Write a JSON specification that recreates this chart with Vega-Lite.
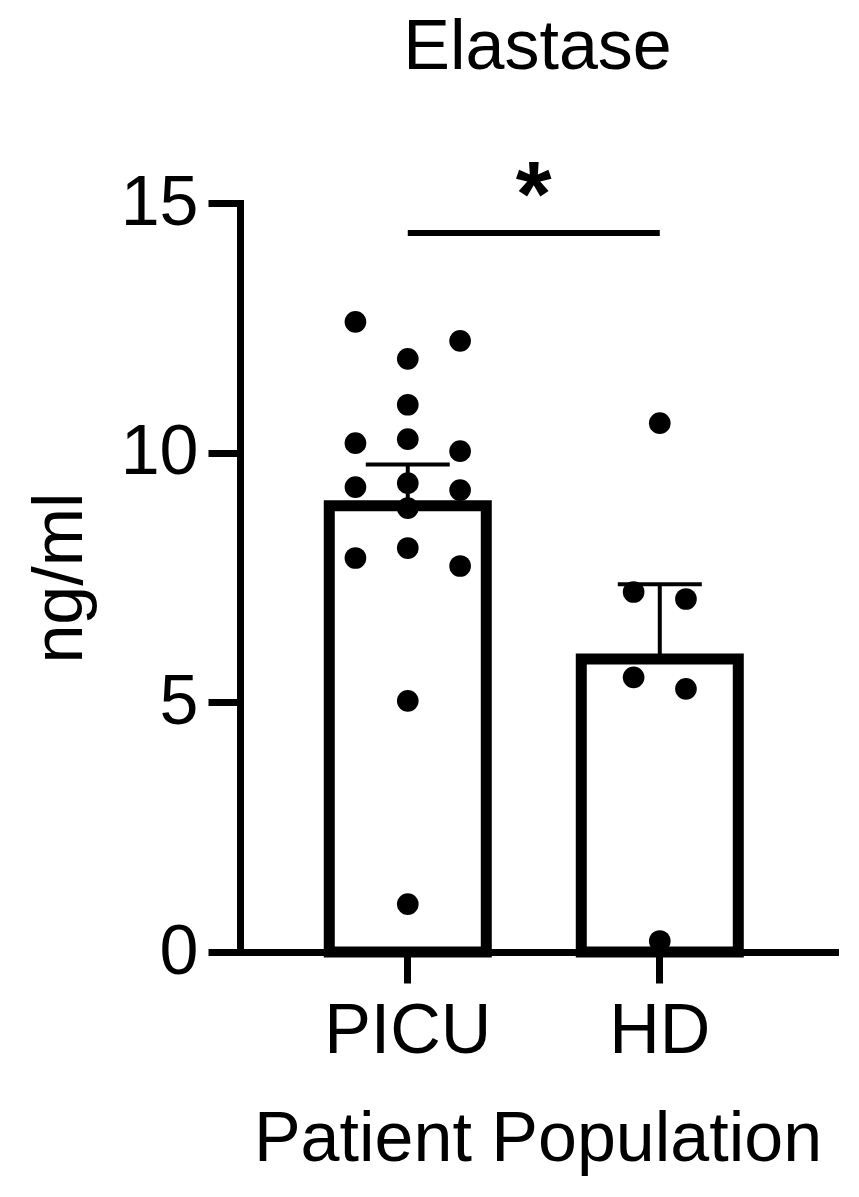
{
  "$schema": "https://vega.github.io/schema/vega-lite/v6.json",
  "width": 595,
  "height": 749,
  "autosize": {"type": "none"},
  "padding": {"left": 240, "top": 203, "right": 24, "bottom": 245},
  "background": "white",
  "config": {
    "font": "Liberation Sans",
    "view": {"stroke": null},
    "axis": {
      "domainColor": "black", "tickColor": "black", "labelColor": "black", "titleColor": "black",
      "domainWidth": 7, "tickWidth": 7, "grid": false,
      "labelFont": "Liberation Sans", "titleFont": "Liberation Sans",
      "labelFontSize": 70, "titleFontSize": 70, "titleFontWeight": "normal",
      "domainCap": "square"
    }
  },
  "title": {"text": "Elastase", "fontSize": 70, "fontWeight": "normal", "color": "black", "anchor": "middle", "offset": 68, "font": "Liberation Sans"},
  "datasets": {
    "pts": [
      {"group": "PICU", "slot": -2, "value": 12.62},
      {"group": "PICU", "slot": -2, "value": 10.19},
      {"group": "PICU", "slot": -2, "value": 9.31},
      {"group": "PICU", "slot": -2, "value": 7.89},
      {"group": "PICU", "slot": 0, "value": 11.88},
      {"group": "PICU", "slot": 0, "value": 10.96},
      {"group": "PICU", "slot": 0, "value": 10.27},
      {"group": "PICU", "slot": 0, "value": 9.39},
      {"group": "PICU", "slot": 0, "value": 8.89},
      {"group": "PICU", "slot": 0, "value": 8.09},
      {"group": "PICU", "slot": 0, "value": 5.03},
      {"group": "PICU", "slot": 0, "value": 0.96},
      {"group": "PICU", "slot": 2, "value": 12.24},
      {"group": "PICU", "slot": 2, "value": 10.03},
      {"group": "PICU", "slot": 2, "value": 9.25},
      {"group": "PICU", "slot": 2, "value": 7.73},
      {"group": "HD", "slot": 0, "value": 10.59},
      {"group": "HD", "slot": -1, "value": 7.21},
      {"group": "HD", "slot": 1, "value": 7.07},
      {"group": "HD", "slot": -1, "value": 5.5},
      {"group": "HD", "slot": 1, "value": 5.27},
      {"group": "HD", "slot": 0, "value": 0.22}
    ],
    "sig": [
      {"from": "PICU", "to": "HD", "y": 14.4, "label": "*"}
    ]
  },
  "data": {"name": "pts"},
  "encoding": {
    "x": {
      "field": "group", "type": "nominal", "sort": ["PICU", "HD"],
      "scale": {"domain": ["PICU", "HD"], "paddingInner": 0.377, "paddingOuter": 0.369, "align": 0.48},
      "axis": {"labelAngle": 0, "tickSize": 31, "labelPadding": 14, "title": "Patient Population", "titlePadding": 39}
    },
    "y": {
      "type": "quantitative",
      "scale": {"domain": [0, 15], "nice": false, "zero": true},
      "axis": {"values": [0, 5, 10, 15], "tickSize": 32, "labelPadding": 10, "title": "ng/ml", "titlePadding": 24}
    }
  },
  "resolve": {"scale": {"xOffset": "independent"}},
  "layer": [
    {
      "mark": {"type": "errorbar", "extent": "stderr", "color": "black", "ticks": {"size": 84, "thickness": 4, "color": "black", "opacity": 1}, "rule": {"strokeWidth": 4, "color": "black", "opacity": 1}},
      "encoding": {"y": {"field": "value", "type": "quantitative"}}
    },
    {
      "mark": {"type": "bar", "fill": "white", "stroke": "black", "strokeWidth": 11, "yOffset": 5.5, "width": {"band": 1}},
      "encoding": {"y": {"field": "value", "type": "quantitative", "aggregate": "mean"}}
    },
    {
      "mark": {"type": "circle", "color": "black", "opacity": 1, "size": 470},
      "encoding": {
        "y": {"field": "value", "type": "quantitative"},
        "xOffset": {"field": "slot", "type": "ordinal", "scale": {"type": "point", "domain": [-2, -1, 0, 1, 2], "padding": 1.489}}
      }
    },
    {
      "data": {"name": "sig"},
      "mark": {"type": "rule", "strokeWidth": 6, "color": "black"},
      "encoding": {
        "x": {"field": "from", "type": "nominal"},
        "x2": {"field": "to"},
        "y": {"field": "y", "type": "quantitative"}
      }
    },
    {
      "data": {"name": "sig"},
      "mark": {"type": "text", "fontSize": 92, "fontWeight": "bold", "color": "black", "dx": 126, "dy": -7, "baseline": "alphabetic", "align": "center"},
      "encoding": {
        "x": {"field": "from", "type": "nominal"},
        "y": {"field": "y", "type": "quantitative"},
        "text": {"field": "label"}
      }
    }
  ]
}
